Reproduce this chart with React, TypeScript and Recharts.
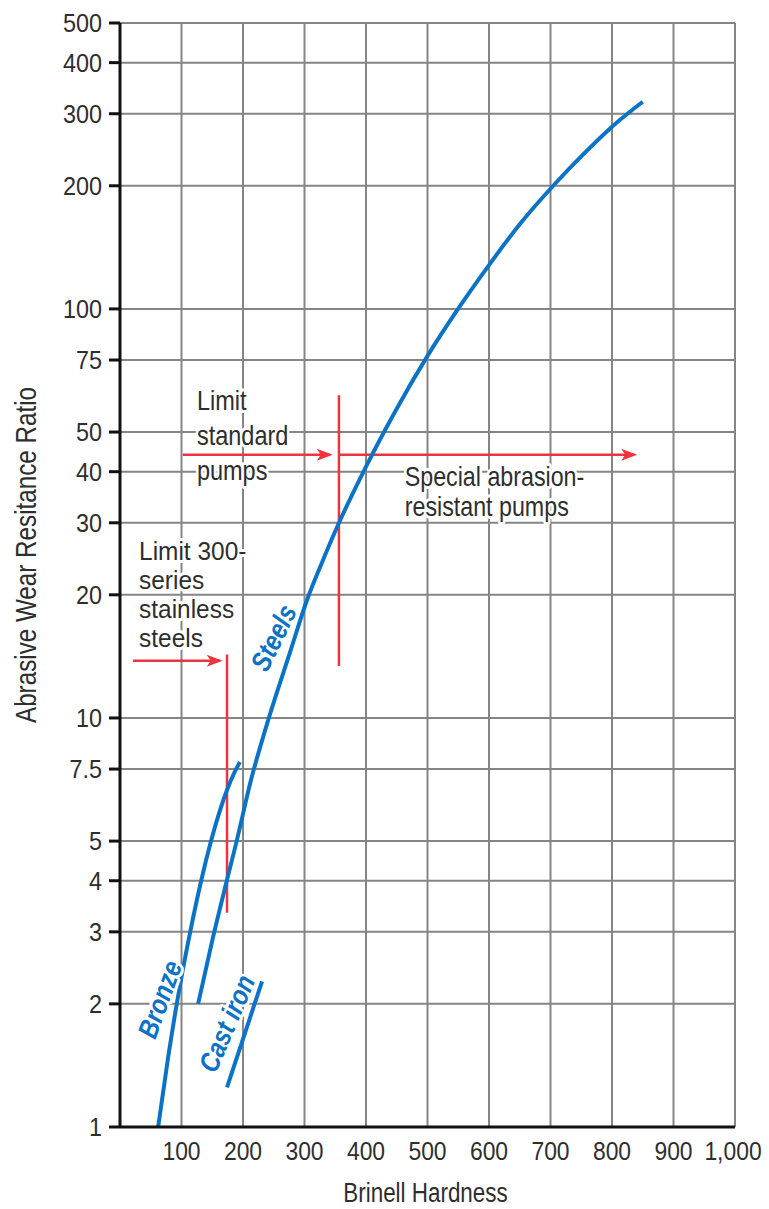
import React from 'react';
import {
  LineChart,
  Line,
  XAxis,
  YAxis,
  CartesianGrid,
  ReferenceLine,
  ReferenceDot,
} from 'recharts';

// ---------- data ----------
const steelsHardness = [127, 151, 174, 189, 213, 242, 276, 304, 328, 353, 398, 447, 501, 553, 600, 650, 707, 756, 800, 850];
const steelsRatio = [2, 2.9, 4.02, 4.95, 7.05, 10, 14.4, 19.4, 23.9, 29.3, 40.6, 56, 77.2, 101.7, 128, 161, 202, 241, 279, 321];

const bronzeHardness = [62, 78, 94, 114, 132, 148, 164, 185, 195];
const bronzeRatio = [1, 1.47, 2.07, 2.99, 4, 5, 6.04, 7.3, 7.8];

const castIronHardness = [174, 231];
const castIronRatio = [1.25, 2.27];

const xTicks = [100, 200, 300, 400, 500, 600, 700, 800, 900, 1000];
const yTicks = [1, 2, 3, 4, 5, 7.5, 10, 20, 30, 40, 50, 75, 100, 200, 300, 400, 500];

// annotation values (hardness / ratio)
const standardLimitHardness = 356;
const standardLimitRange = [13.4, 61.5];
const standardArrowRatio = 44;
const standardArrowLeft = [102, 346];
const standardArrowRight = [356, 841];

const stainlessLimitHardness = 174;
const stainlessLimitRange = [3.34, 14.3];
const stainlessArrowRatio = 13.8;
const stainlessArrowSpan = [21, 167];

const standardText = ['Limit', 'standard', 'pumps'];
const specialText = ['Special abrasion-', 'resistant pumps'];
const stainlessText = ['Limit 300-', 'series', 'stainless', 'steels'];

const toRows = (xs: number[], ys: number[]) => xs.map((h, i) => ({ h, v: ys[i] }));
const steels = toRows(steelsHardness, steelsRatio);
const bronze = toRows(bronzeHardness, bronzeRatio);
const castIron = toRows(castIronHardness, castIronRatio);

const FONT = "'Liberation Sans', Arial, sans-serif";
const BLUE = '#0b73c6';
const RED = '#ec3540';
const TEXT = '#2e2e2e';

// Arial/Liberation advance widths (1/1000 em) used to emulate a condensed face
const W: Record<string, number> = {
  ' ': 278, '-': 333, ',': 278, '.': 278,
  '0': 556, '1': 556, '2': 556, '3': 556, '4': 556, '5': 556, '6': 556, '7': 556, '8': 556, '9': 556,
  A: 667, B: 667, C: 722, H: 722, L: 556, R: 722, S: 667, W: 944,
  a: 556, b: 556, c: 500, d: 556, e: 556, i: 222, l: 222, m: 833, n: 556, o: 556, p: 556,
  r: 333, s: 500, t: 278, u: 556, v: 500, z: 500,
};
const WB: Record<string, number> = {
  ' ': 278, S: 667, B: 722, C: 722, a: 556, e: 556, i: 278, l: 278, n: 611, o: 611, r: 389, s: 556, t: 333, z: 500,
};
const textWidth = (s: string, size: number, factor: number, bold = false) =>
  (s.split('').reduce((acc, ch) => acc + ((bold ? WB[ch] : W[ch]) ?? 556), 0) * size * factor) / 1000;

const halo = {
  stroke: '#ffffff',
  strokeWidth: 6,
  paintOrder: 'stroke' as const,
  strokeLinejoin: 'round' as const,
};

const NText = ({ s, size, factor, bold = false, ...rest }: any) => (
  <text
    fontFamily={FONT}
    fontSize={size}
    fontWeight={bold ? 'bold' : 'normal'}
    textLength={textWidth(s, size, factor, bold)}
    lengthAdjust="spacingAndGlyphs"
    {...rest}
  >
    {s}
  </text>
);

const multiLine = (lines: string[], lh: number, size: number, factor: number) => (p: any) => (
  <g>
    {lines.map((l, i) => (
      <NText key={i} s={l} size={size} factor={factor} x={p.cx} y={p.cy + i * lh} fill={TEXT} {...halo} />
    ))}
  </g>
);

const rotated = (label: string, angle: number) => (p: any) => (
  <NText
    s={label}
    size={28}
    factor={0.84}
    bold
    x={p.cx}
    y={p.cy}
    fill={BLUE}
    fontStyle="italic"
    textAnchor="middle"
    dominantBaseline="central"
    transform={`rotate(${angle}, ${p.cx}, ${p.cy})`}
    {...halo}
  />
);

const arrowHead = (p: any) => (
  <polygon
    points={`${p.cx},${p.cy} ${p.cx - 16},${p.cy - 6} ${p.cx - 12},${p.cy} ${p.cx - 16},${p.cy + 6}`}
    fill={RED}
  />
);

const fmt = (v: number) => v.toLocaleString('en-US');

const XTick = (p: any) => (
  <NText
    s={fmt(p.payload.value)}
    size={26}
    factor={0.88}
    x={p.x}
    y={p.y}
    dx={p.index === xTicks.length - 1 ? -2 : 0}
    dy="0.71em"
    textAnchor="middle"
    fill={TEXT}
  />
);
const YTick = (p: any) => (
  <NText s={String(p.payload.value)} size={26} factor={0.9} x={p.x} y={p.y} dy="0.36em" textAnchor="end" fill={TEXT} />
);

export default function App() {
  return (
    <div style={{ position: 'absolute', left: 0, top: 0, background: '#fff' }}>
      <LineChart width={769} height={1209} margin={{ top: 23, right: 34, bottom: 0, left: 0 }}>
        <CartesianGrid stroke="#858585" strokeWidth={2} />
        <XAxis
          dataKey="h"
          type="number"
          domain={[0, 1000]}
          ticks={xTicks}
          interval={0}
          height={82}
          tickLine={false}
          tickSize={0}
          tickMargin={15}
          axisLine={{ stroke: '#111', strokeWidth: 3 }}
          tick={XTick}
          allowDataOverflow
          label={{
            position: 'insideBottom',
            content: (p: any) => {
              const vb = p.viewBox;
              return (
                <NText
                  s="Brinell Hardness"
                  size={27}
                  factor={0.83}
                  x={vb.x + vb.width / 2 - 2}
                  y={vb.y + vb.height - 7}
                  textAnchor="middle"
                  fill={TEXT}
                />
              );
            },
          }}
        />
        <YAxis
          type="number"
          scale="log"
          domain={[1, 500]}
          ticks={yTicks}
          interval={0}
          width={120}
          allowDataOverflow
          tickSize={11}
          tickMargin={7}
          tickLine={{ stroke: '#111', strokeWidth: 3 }}
          axisLine={{ stroke: '#111', strokeWidth: 3 }}
          tick={YTick}
          label={{
            position: 'insideLeft',
            content: (p: any) => {
              const vb = p.viewBox;
              const cx = vb.x + 26;
              const cy = vb.y + vb.height / 2 - 20;
              return (
                <NText
                  s="Abrasive Wear Resitance Ratio"
                  size={29}
                  factor={0.834}
                  x={cx}
                  y={cy}
                  textAnchor="middle"
                  dominantBaseline="central"
                  transform={`rotate(-90, ${cx}, ${cy})`}
                  fill={TEXT}
                />
              );
            },
          }}
        />

        {/* text annotations */}
        <ReferenceDot x={125} y={56.7} r={0} ifOverflow="visible" shape={multiLine(standardText, 35, 28, 0.84)} />
        <ReferenceDot x={463} y={37} r={0} ifOverflow="visible" shape={multiLine(specialText, 30, 28, 0.83)} />
        <ReferenceDot x={31} y={24.3} r={0} ifOverflow="visible" shape={multiLine(stainlessText, 29, 26, 0.94)} />

        {/* red limit lines */}
        <ReferenceLine
          segment={[{ x: standardLimitHardness, y: standardLimitRange[0] }, { x: standardLimitHardness, y: standardLimitRange[1] }]}
          stroke={RED}
          strokeWidth={2.5}
        />
        <ReferenceLine
          segment={[{ x: standardArrowLeft[0], y: standardArrowRatio }, { x: standardArrowLeft[1] - 5, y: standardArrowRatio }]}
          stroke={RED}
          strokeWidth={2.5}
        />
        <ReferenceLine
          segment={[{ x: standardArrowRight[0], y: standardArrowRatio }, { x: standardArrowRight[1] - 5, y: standardArrowRatio }]}
          stroke={RED}
          strokeWidth={2.5}
        />
        <ReferenceLine
          segment={[{ x: stainlessLimitHardness, y: stainlessLimitRange[0] }, { x: stainlessLimitHardness, y: stainlessLimitRange[1] }]}
          stroke={RED}
          strokeWidth={2.5}
        />
        <ReferenceLine
          segment={[{ x: stainlessArrowSpan[0], y: stainlessArrowRatio }, { x: stainlessArrowSpan[1] - 5, y: stainlessArrowRatio }]}
          stroke={RED}
          strokeWidth={2.5}
        />
        <ReferenceDot x={standardArrowLeft[1]} y={standardArrowRatio} r={0} ifOverflow="visible" shape={arrowHead} />
        <ReferenceDot x={standardArrowRight[1]} y={standardArrowRatio} r={0} ifOverflow="visible" shape={arrowHead} />
        <ReferenceDot x={stainlessArrowSpan[1]} y={stainlessArrowRatio} r={0} ifOverflow="visible" shape={arrowHead} />

        {/* curves */}
        <Line data={steels} dataKey="v" type="monotone" stroke={BLUE} strokeWidth={4} dot={false} isAnimationActive={false} />
        <Line data={bronze} dataKey="v" type="monotone" stroke={BLUE} strokeWidth={4} dot={false} isAnimationActive={false} />
        <Line data={castIron} dataKey="v" type="linear" stroke={BLUE} strokeWidth={4} dot={false} isAnimationActive={false} />

        {/* curve labels */}
        <ReferenceDot x={250} y={15.7} r={0} ifOverflow="visible" shape={rotated('Steels', -64)} />
        <ReferenceDot x={65} y={2.05} r={0} ifOverflow="visible" shape={rotated('Bronze', -70)} />
        <ReferenceDot x={174} y={1.79} r={0} ifOverflow="visible" shape={rotated('Cast iron', -67)} />
      </LineChart>
    </div>
  );
}
